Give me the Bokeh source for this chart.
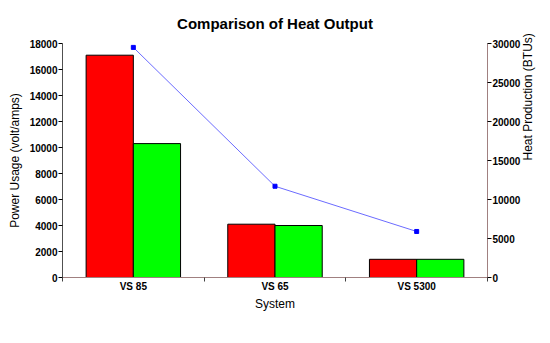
from bokeh.plotting import figure
from bokeh.models import (ColumnDataSource, Range1d, LinearAxis, FixedTicker,
                          Legend, LegendItem)
from bokeh.embed import file_html
from bokeh.resources import INLINE

systems = ["VS 85", "VS 65", "VS 5300"]
startup_power = [17100, 4100, 1400]
running_power = [10300, 4000, 1400]
heat_output = [29500, 11700, 5900]

FONT = "Liberation Sans"

xc = [i + 0.5 for i in range(len(systems))]
src = ColumnDataSource(dict(
    x=xc,
    xs=[v - 1/6 for v in xc],
    xr=[v + 1/6 for v in xc],
    startup=startup_power, running=running_power, heat=heat_output,
))

p = figure(width=550, height=343, frame_width=425, frame_height=234,
           output_backend="svg", toolbar_location=None,
           x_range=Range1d(0, len(systems)), y_range=Range1d(0, 18000),
           min_border_left=62, min_border_right=63, min_border_top=0,
           min_border_bottom=0)
p.extra_y_ranges = {"heat": Range1d(0, 30000)}

p.title.text = "Comparison of Heat Output"
p.title.align = "center"
p.title.text_font = FONT
p.title.text_font_size = "15px"
p.title.text_font_style = "bold"
p.title.text_color = "black"
p.title.standoff = 24

p.outline_line_color = None
p.xgrid.grid_line_color = None
p.ygrid.grid_line_color = None

r1 = p.vbar(x="xs", top="startup", width=1/3, source=src, fill_color="#ff0000",
            line_color="black", line_width=1)
r2 = p.vbar(x="xr", top="running", width=1/3, source=src, fill_color="#00ff00",
            line_color="black", line_width=1)
rl = p.line(x="x", y="heat", source=src, y_range_name="heat",
            line_color="#6b6bff", line_width=1)
rs = p.scatter(x="x", y="heat", source=src, y_range_name="heat", marker="square",
               size=4, fill_color="#0000ff", line_color="#0000ff")

# x axis
xa = p.xaxis[0]
xa.ticker = FixedTicker(ticks=xc, minor_ticks=list(range(len(systems) + 1)))
xa.major_label_overrides = {v: s for v, s in zip(xc, systems)}
xa.major_tick_in = 0
xa.major_tick_out = 0
xa.minor_tick_in = 0
xa.minor_tick_out = 4
xa.axis_line_color = "#a08080"
xa.minor_tick_line_color = "#404040"
xa.axis_label = "System"

# left axis
ya = p.yaxis[0]
ya.ticker = FixedTicker(ticks=list(range(0, 18001, 2000)))
ya.axis_label = "Power Usage (volt/amps)"
ya.minor_tick_line_color = None
ya.major_tick_in = 0
ya.major_tick_out = 4
ya.axis_line_color = "#505050"

# right axis
ra = LinearAxis(y_range_name="heat", axis_label="Heat Production (BTUs)",
                ticker=FixedTicker(ticks=list(range(0, 30001, 5000))))
ra.minor_tick_line_color = None
ra.major_tick_in = 0
ra.major_tick_out = 4
ra.axis_line_color = "#a08080"
ra.axis_label_orientation = 1.5708
p.add_layout(ra, "right")

for ax in [xa, ya, ra]:
    ax.major_label_text_font = FONT
    ax.major_label_text_font_size = "10px"
    ax.major_label_text_font_style = "bold"
    ax.major_label_text_color = "black"
    ax.axis_label_text_font = FONT
    ax.axis_label_text_font_size = "12px"
    ax.axis_label_text_font_style = "normal"
    ax.axis_label_text_color = "black"
    ax.major_label_standoff = 1
    ax.axis_label_standoff = 5
xa.major_label_standoff = -1
xa.axis_label_standoff = 2

legend = Legend(items=[
    LegendItem(label="Startup Power Req.", renderers=[r1]),
    LegendItem(label="Running Power Req.", renderers=[r2]),
    LegendItem(label="Heat Output (BTUs)", renderers=[rl, rs]),
], orientation="horizontal", border_line_color=None, location="center",
   label_text_font=FONT, label_text_font_size="10px", label_text_font_style="bold",
   glyph_width=14, glyph_height=11, spacing=17, label_standoff=5, padding=2,
   margin=0, background_fill_alpha=0)
p.add_layout(legend, "below")

open("out.html", "w").write(file_html(p, INLINE))
